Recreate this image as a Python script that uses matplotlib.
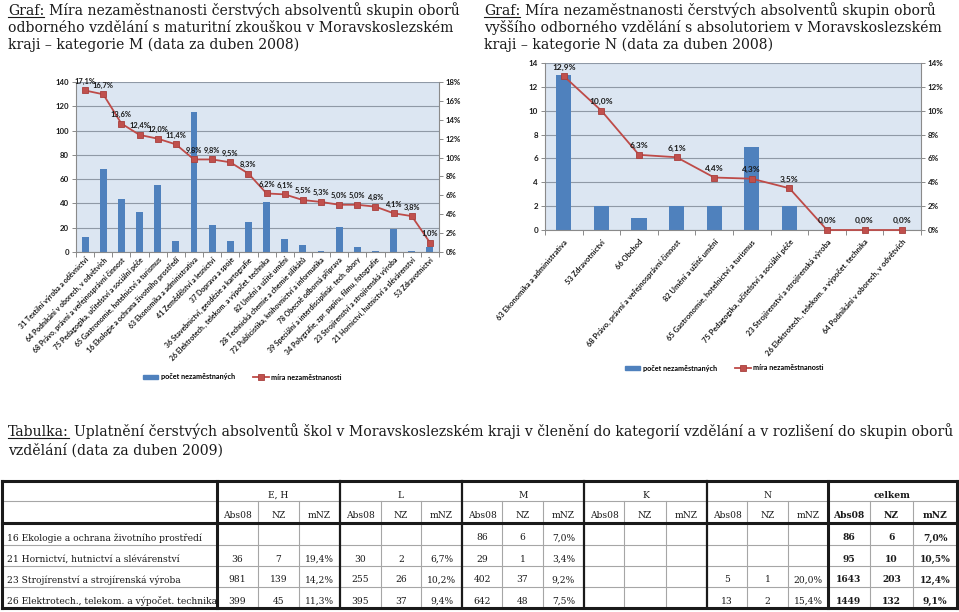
import matplotlib
matplotlib.use('Agg')
import matplotlib.pyplot as plt
from matplotlib.patches import Patch
from matplotlib.lines import Line2D

# ---------------- data ----------------
m_categories = [
    "31 Textilní výroba a oděvnictví",
    "64 Podnikání v oborech, v odvětvích",
    "68 Právo, právní a veřejnosprávní činnost",
    "75 Pedagogika, učitelství a sociální péče",
    "65 Gastronomie, hotelnictví a turismus",
    "16 Ekologie a ochrana životního prostředí",
    "63 Ekonomika a administrativa",
    "41 Zemědělství a lesnictví",
    "37 Doprava a spoje",
    "36 Stavebnictví, geodézie a kartografie",
    "26 Elektrotech., telekom. a výpočet. technika",
    "82 Umění a užité umění",
    "28 Technická chemie a chemie silikátů",
    "72 Publicistika, knihovnictví a informatika",
    "78 Obecně odborná příprava",
    "39 Speciální a interdisciplinár. tech. obory",
    "34 Polygrafie, zpr. papíru, filmu, fotografie",
    "23 Strojírenství a strojírenská výroba",
    "21 Hornictví, hutnictví a slévárenství",
    "53 Zdravotnictví",
]
m_counts = [12, 68, 44, 33, 55, 9, 115, 22, 9, 25, 41, 11, 6, 1, 21, 4, 1, 19, 1, 4]
m_rates = [17.1, 16.7, 13.6, 12.4, 12.0, 11.4, 9.8, 9.8, 9.5, 8.3, 6.2, 6.1,
           5.5, 5.3, 5.0, 5.0, 4.8, 4.1, 3.8, 1.0]

n_categories = [
    "63 Ekonomika a administrativa",
    "53 Zdravotnictví",
    "66 Obchod",
    "68 Právo, právní a veřejnosprávní činnost",
    "82 Umění a užité umění",
    "65 Gastronomie, hotelnictví a turismus",
    "75 Pedagogika, učitelství a sociální péče",
    "23 Strojírenství a strojírenská výroba",
    "26 Elektrotech., telekom. a výpočet. technika",
    "64 Podnikání v oborech, v odvětvích",
]
n_counts = [13, 2, 1, 2, 2, 7, 2, 0, 0, 0]
n_rates = [12.9, 10.0, 6.3, 6.1, 4.4, 4.3, 3.5, 0.0, 0.0, 0.0]

legend_labels = ["počet nezaměstnaných", "míra nezaměstnanosti"]

title_m = ["Míra nezaměstnanosti čerstvých absolventů skupin oborů",
           "odborného vzdělání s maturitní zkouškou v Moravskoslezském",
           "kraji – kategorie M (data za duben 2008)"]
title_n = ["Míra nezaměstnanosti čerstvých absolventů skupin oborů",
           "vyššího odborného vzdělání s absolutoriem v Moravskoslezském",
           "kraji – kategorie N (data za duben 2008)"]
caption = ["Uplatnění čerstvých absolventů škol v Moravskoslezském kraji v členění do kategorií vzdělání a v rozlišení do skupin oborů",
           "vzdělání (data za duben 2009)"]

table_groups = ["E, H", "L", "M", "K", "N", "celkem"]
table_subcols = ["Abs08", "NZ", "mNZ"]
table_rows = [
    "16 Ekologie a ochrana životního prostředí",
    "21 Hornictví, hutnictví a slévárenství",
    "23 Strojírenství a strojírenská výroba",
    "26 Elektrotech., telekom. a výpočet. technika",
]
table_values = [
    ["", "", "", "", "", "", "86", "6", "7,0%", "", "", "", "", "", "", "86", "6", "7,0%"],
    ["36", "7", "19,4%", "30", "2", "6,7%", "29", "1", "3,4%", "", "", "", "", "", "", "95", "10", "10,5%"],
    ["981", "139", "14,2%", "255", "26", "10,2%", "402", "37", "9,2%", "", "", "", "5", "1", "20,0%", "1643", "203", "12,4%"],
    ["399", "45", "11,3%", "395", "37", "9,4%", "642", "48", "7,5%", "", "", "", "13", "2", "15,4%", "1449", "132", "9,1%"],
]

# ---------------- figure ----------------
W, H = 959, 612
fig = plt.figure(figsize=(W / 100, H / 100), dpi=100)
fig.patch.set_facecolor('white')

def rect(x0, y0, x1, y1):
    return [x0 / W, 1 - y1 / H, (x1 - x0) / W, (y1 - y0) / H]

BAR = '#4f81bd'
LINE = '#be4b48'
BG = '#dce6f2'
GRID = '#8f99a6'
AXC = '#8a8a8a'
SANS = 'Lato'
SERIF = 'DejaVu Serif'
TXT = '#1a1a1a'

# overlay axes in pixel coordinates for text and table
ov = fig.add_axes([0, 0, 1, 1])
ov.set_xlim(0, W)
ov.set_ylim(H, 0)
ov.axis('off')
ov.patch.set_visible(False)


def chart(box, cats, counts, rates, ymax, ystep, pmax, pstep, barw, legend_c,
          xlab_size, xlab_pad, xlab_rot, dlab_size, tick_size):
    ax = fig.add_axes(rect(*box))
    ax.set_facecolor(BG)
    x = list(range(len(cats)))
    ax.bar(x, counts, width=barw, color=BAR, zorder=2)
    ax.set_xlim(-0.5, len(cats) - 0.5)
    ax.set_ylim(0, ymax)
    ax.set_yticks(list(range(0, ymax + 1, ystep)))
    ax.yaxis.grid(True, color=GRID, lw=0.8)
    ax.set_axisbelow(True)
    ax.spines['top'].set_visible(False)
    ax.spines['right'].set_visible(False)
    for s in ['left', 'bottom']:
        ax.spines[s].set_color(AXC)
        ax.spines[s].set_linewidth(0.8)
    ax.set_xticks(x)
    ax.set_xticklabels(cats, rotation=xlab_rot, ha='right', rotation_mode='anchor',
                       fontsize=xlab_size, fontweight='bold', color=TXT, family=SANS)
    ax.tick_params(axis='x', which='major', length=0, pad=xlab_pad)
    ax.set_xticks([i + 0.5 for i in range(-1, len(cats))], minor=True)
    ax.tick_params(axis='x', which='minor', length=3.5, color=AXC, width=0.7)
    ax.tick_params(axis='y', length=3, color=AXC, width=0.7, labelsize=tick_size, pad=2)
    for lab in ax.get_yticklabels():
        lab.set_fontweight('bold'); lab.set_family(SANS); lab.set_color(TXT)

    ax2 = ax.twinx()
    ax2.set_ylim(0, pmax)
    ax2.plot(x, rates, color=LINE, lw=1.3, marker='s', ms=4.2,
             mfc='#c0504d', mec='#a83f3c', mew=0.6, zorder=3, clip_on=False)
    ticks = list(range(0, pmax + 1, pstep))
    ax2.set_yticks(ticks)
    ax2.set_yticklabels([f"{t}%" for t in ticks], fontsize=tick_size, fontweight='bold',
                        family=SANS, color=TXT)
    ax2.tick_params(axis='y', length=3, color=AXC, width=0.7, pad=2)
    for s in ['left', 'top', 'bottom']:
        ax2.spines[s].set_visible(False)
    ax2.spines['right'].set_color(AXC)
    ax2.spines['right'].set_linewidth(0.8)
    for xi, r in zip(x, rates):
        ax2.annotate(f"{r:.1f}%".replace('.', ','), (xi, r), xytext=(0, 4.0),
                     textcoords='offset points', ha='center', va='bottom',
                     fontsize=dlab_size, fontweight='bold', family=SANS, color=TXT)

    handles = [Patch(color=BAR),
               Line2D([], [], color=LINE, lw=1.3, marker='s', ms=4.2,
                      mfc='#c0504d', mec='#a83f3c', mew=0.6)]
    fig.legend(handles, legend_labels, loc='center',
               bbox_to_anchor=(legend_c[0] / W, 1 - legend_c[1] / H),
               ncol=2, frameon=False, handlelength=2.2, handleheight=0.45,
               handletextpad=0.3, columnspacing=2.5,
               prop=dict(family=SANS, weight='bold', size=5.2))
    return ax


chart((76, 82, 439, 252), m_categories, m_counts, m_rates, 140, 20, 18, 2, 0.38, (242, 377),
      5.0, 3, 46, 5.4, 5.6)
chart((545, 63, 921, 230), n_categories, n_counts, n_rates, 14, 2, 14, 2, 0.4, (724, 368),
      5.4, 6, 49, 6.0, 5.8)

# ---------------- serif texts ----------------
renderer = fig.canvas.get_renderer()


def width_px(t):
    return t.get_window_extent(renderer).width


def prefixed_line(x, y, prefix, rest, size):
    tp = ov.text(x, y, prefix, fontsize=size, family=SERIF, color=TXT, va='baseline')
    wp = width_px(tp)
    ov.plot([x, x + wp], [y + 2.2, y + 2.2], color=TXT, lw=0.8)
    sp = size * 0.35 * 100 / 72
    ov.text(x + wp + sp, y, rest, fontsize=size, family=SERIF, color=TXT, va='baseline')

# serif size chosen so the caption's first line spans the page width
probe = ov.text(0, 0, "Tabulka: " + caption[0], fontsize=10, family=SERIF)
TS = 10 * (944 / width_px(probe))
probe.remove()

prefixed_line(8, 15, "Graf:", title_m[0], TS)
ov.text(8, 32, title_m[1], fontsize=TS, family=SERIF, color=TXT, va='baseline')
ov.text(8, 49, title_m[2], fontsize=TS, family=SERIF, color=TXT, va='baseline')
prefixed_line(484, 15, "Graf:", title_n[0], TS)
ov.text(484, 32, title_n[1], fontsize=TS, family=SERIF, color=TXT, va='baseline')
ov.text(484, 49, title_n[2], fontsize=TS, family=SERIF, color=TXT, va='baseline')

prefixed_line(8, 436, "Tabulka:", caption[0], TS)
ov.text(8, 455, caption[1], fontsize=TS, family=SERIF, color=TXT, va='baseline')

# ---------------- table ----------------
xs = [2, 217, 258, 299, 340, 381, 421, 462, 502, 543, 584, 624, 666, 707, 747, 788, 828, 870, 913, 957]
ys = [481, 501, 523, 545, 566, 587, 608]

probe = ov.text(0, 0, table_rows[0], fontsize=10, family=SERIF)
TT = 10 * (194 / width_px(probe))
probe.remove()

THIN = '#a6a6a6'
for yy in (ys[1], ys[3], ys[4], ys[5]):
    ov.plot([xs[0], xs[-1]], [yy, yy], color=THIN, lw=0.8, solid_capstyle='butt')
for i in range(1, len(xs) - 1):
    if (i - 1) % 3 != 0:
        ov.plot([xs[i], xs[i]], [ys[1], ys[-1]], color=THIN, lw=0.8)
for i in range(len(xs)):
    if i == 0 or i == len(xs) - 1 or (i - 1) % 3 == 0:
        lw = 2.2 if i in (0, 1, 16, len(xs) - 1) else 1.6
        ov.plot([xs[i], xs[i]], [ys[0], ys[-1]], color=TXT, lw=lw, solid_capstyle='projecting')
for yy in (ys[0], ys[2], ys[-1]):
    ov.plot([xs[0], xs[-1]], [yy, yy], color=TXT, lw=2.2, solid_capstyle='projecting')

for g, name in enumerate(table_groups):
    xc = (xs[1 + 3 * g] + xs[4 + 3 * g]) / 2
    bold = 'bold' if name == 'celkem' else 'normal'
    ov.text(xc, ys[1] - 6, name, fontsize=TT, family=SERIF, ha='center', va='center',
            color=TXT, fontweight=bold)
    for k, sub in enumerate(table_subcols):
        c = 1 + 3 * g + k
        ov.text((xs[c] + xs[c + 1]) / 2, ys[2] - 7, sub, fontsize=TT, family=SERIF,
                ha='center', va='center', color=TXT, fontweight=bold)

for r, (label, vals) in enumerate(zip(table_rows, table_values)):
    yc = ys[3 + r] - 7
    ov.text(7, yc, label, fontsize=TT, family=SERIF, ha='left', va='center', color=TXT)
    for c, v in enumerate(vals):
        ov.text((xs[1 + c] + xs[2 + c]) / 2, yc, v, fontsize=TT, family=SERIF,
                ha='center', va='center', color=TXT,
                fontweight='bold' if c >= 15 else 'normal')

fig.savefig('out.png', dpi=100)
